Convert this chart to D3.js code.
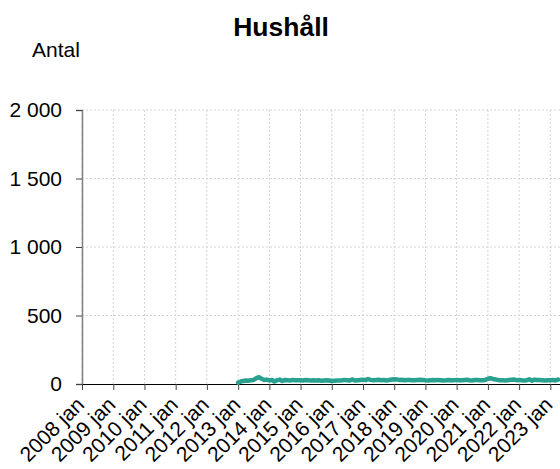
<!DOCTYPE html>
<html>
<head>
<meta charset="utf-8">
<script src="https://cdn.jsdelivr.net/npm/d3@7"></script>
<style>
  body { margin: 0; background: #fff; }
  svg { display: block; font-family: "Liberation Sans", Arial, sans-serif; }
</style>
</head>
<body>
<svg id="chart" width="560" height="469"></svg>
<script>
// Monthly values, starting 2013 jan
const seriesStart = '2013-01';
const values = [
  10, 18, 22, 25, 24, 28, 30, 42, 50, 38, 30, 32,
  26, 30, 18, 28, 32, 22, 30, 28, 26, 30, 28, 27,
  28, 26, 29, 27, 25, 28, 26, 27, 24, 26, 28, 25,
  22, 24, 26, 25, 27, 30, 28, 26, 33, 25, 28, 30,
  32, 28, 36, 30, 27, 29, 31, 28, 30, 26, 29, 33,
  35, 33, 30, 31, 28, 30, 29, 27, 28, 30, 31, 29,
  27, 26, 28, 29, 27, 30, 28, 26, 27, 29, 28, 27,
  30, 28, 27, 29, 31, 28, 26, 30, 29, 27, 28, 30,
  38, 42, 36, 33, 30, 28, 27, 26, 29, 31, 33, 28,
  30, 27, 26, 28, 34, 24, 32, 29, 30, 28, 26, 27,
  28, 30, 26, 32
];
const xTickYears = [2008, 2009, 2010, 2011, 2012, 2013, 2014, 2015,
  2016, 2017, 2018, 2019, 2020, 2021, 2022, 2023];
const yTicks = [0, 500, 1000, 1500, 2000];

const svg = d3.select('#chart');
const width = 560;
const margin = { top: 110, left: 82 };
const plotBottom = 384;
const fontSize = '21px';

const parse = d3.timeParse('%Y-%m');
const start = parse(seriesStart);
const data = values.map((v, i) => ({ date: d3.timeMonth.offset(start, i), value: v }));

const x = d3.scaleTime()
  .domain([new Date(2008, 0, 1), new Date(2023, 3, 1)])
  .range([margin.left, 558]);

const y = d3.scaleLinear()
  .domain([0, 2000])
  .range([plotBottom, margin.top]);

const tickDates = xTickYears.map(yr => new Date(yr, 0, 1));
const fmtNum = d => d3.format(',')(d).replace(/,/g, ' ');

// grid
svg.append('g')
  .selectAll('line')
  .data(tickDates)
  .join('line')
  .attr('x1', d => x(d)).attr('x2', d => x(d))
  .attr('y1', y(2000)).attr('y2', plotBottom)
  .attr('stroke', '#d4d4d4')
  .attr('stroke-dasharray', '2,2');

svg.append('g')
  .selectAll('line')
  .data(yTicks.filter(t => t > 0))
  .join('line')
  .attr('x1', margin.left).attr('x2', width)
  .attr('y1', d => y(d)).attr('y2', d => y(d))
  .attr('stroke', '#d4d4d4')
  .attr('stroke-dasharray', '2,2');

// Y axis
const yAxis = svg.append('g')
  .attr('transform', `translate(${margin.left},0)`)
  .call(d3.axisLeft(y).tickValues(yTicks).tickSize(6).tickPadding(14).tickFormat(fmtNum));
yAxis.select('.domain').attr('stroke', '#7f7f7f').attr('stroke-width', 1.5);
yAxis.selectAll('.tick line').attr('stroke', '#444');
yAxis.selectAll('text')
  .attr('fill', '#000')
  .style('font-size', fontSize)
  .style('font-family', '"Liberation Sans", Arial, sans-serif');

// X axis
const xAxis = svg.append('g')
  .attr('transform', `translate(0,${plotBottom})`)
  .call(d3.axisBottom(x).tickValues(tickDates).tickSize(6).tickSizeOuter(0)
    .tickFormat(d => d.getFullYear() + ' jan'));
xAxis.select('.domain').attr('stroke', '#000').attr('d', `M${margin.left},0.5H${width}`);
xAxis.selectAll('.tick line').attr('stroke', '#444');
xAxis.selectAll('text')
  .attr('fill', '#000')
  .attr('y', 0)
  .attr('dy', 0)
  .style('font-size', fontSize)
  .style('font-family', '"Liberation Sans", Arial, sans-serif')
  .style('text-anchor', 'end')
  .attr('transform', 'translate(3,22) rotate(-45)');

// line
svg.append('path')
  .datum(data)
  .attr('fill', 'none')
  .attr('stroke', '#2aa190')
  .attr('stroke-width', 4.5)
  .attr('stroke-linejoin', 'round')
  .attr('stroke-linecap', 'round')
  .attr('d', d3.line().x(d => x(d.date)).y(d => y(d.value)));

// title and y label
svg.append('text')
  .attr('x', 281).attr('y', 36)
  .attr('text-anchor', 'middle')
  .style('font-size', '26.5px')
  .style('font-weight', 'bold')
  .text('Hushåll');

svg.append('text')
  .attr('x', 32).attr('y', 57)
  .style('font-size', fontSize)
  .text('Antal');
</script>
</body>
</html>
